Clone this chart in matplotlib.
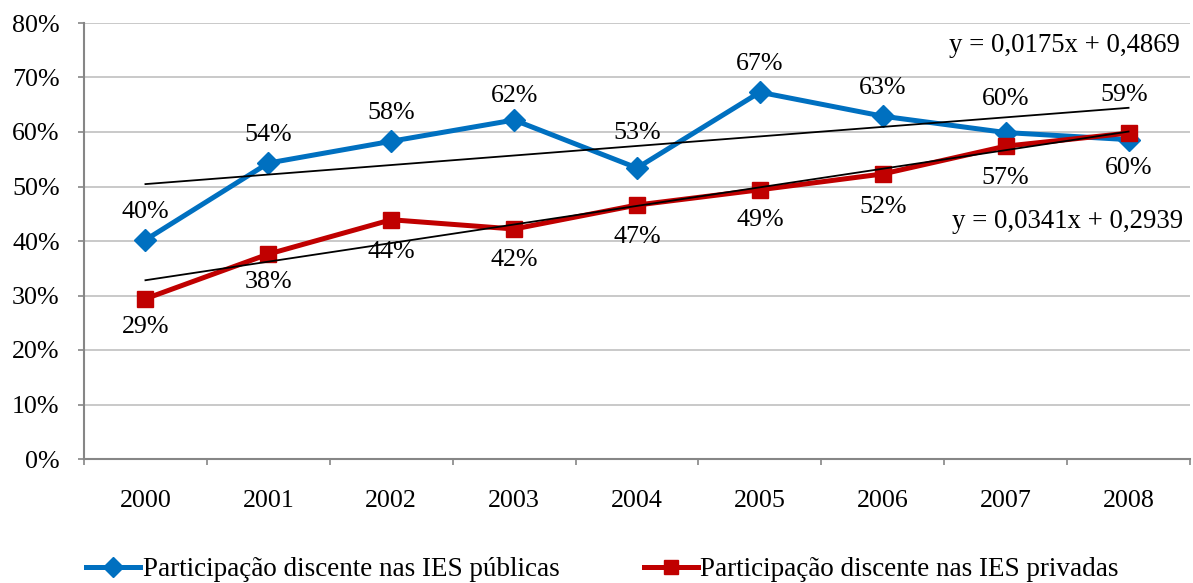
import matplotlib
matplotlib.use("Agg")
import matplotlib.pyplot as plt
from matplotlib.ticker import FixedLocator, FuncFormatter, NullFormatter
import numpy as np

years = ["2000", "2001", "2002", "2003", "2004", "2005", "2006", "2007", "2008"]
publicas = [0.402, 0.543, 0.583, 0.622, 0.534, 0.673, 0.629, 0.599, 0.586]
privadas = [0.294, 0.376, 0.439, 0.422, 0.466, 0.494, 0.523, 0.574, 0.598]
trend_publicas = [0.0175, 0.4869]
trend_privadas = [0.0341, 0.2939]
legend_labels = ["Participação discente nas IES públicas",
                 "Participação discente nas IES privadas"]

plt.rcParams["font.family"] = ["Liberation Serif", "DejaVu Serif"]

BLUE = "#0070c0"
RED = "#c00000"
FS = 18.7

fig = plt.figure(figsize=(11.93, 5.83), dpi=100)
ax = fig.add_axes([84 / 1193, 1 - 459 / 583, (1190 - 84) / 1193, (459 - 23) / 583])

x = np.arange(len(years)) + 0.5
ax.plot(x, publicas, color=BLUE, lw=3.6, marker="D", ms=11.5, mec=BLUE, mfc=BLUE,
        zorder=3, label=legend_labels[0])
ax.plot(x, privadas, color=RED, lw=3.6, marker="s", ms=11.5, mec=RED, mfc=RED,
        zorder=3, label=legend_labels[1])

# linear trend lines over the series index 1..n
idx = np.arange(1, len(years) + 1)
for coef in (trend_publicas, trend_privadas):
    ax.plot(x, coef[0] * idx + coef[1], color="black", lw=1.3, zorder=4)

# label offsets in points (public above, private below)
pub_off = [20, 20, 20, 17, 25, 20, 20, 24, 32]
priv_off = [-20, -20, -23, -22, -23, -22, -24, -23, -25]
for xi, v, d in zip(x, publicas, pub_off):
    ax.annotate(f"{round(v * 100):.0f}%", (xi, v), xytext=(-3 if d > 30 else 0, d),
                textcoords="offset points", ha="center", va="center", fontsize=FS)
for xi, v, d in zip(x, privadas, priv_off):
    ax.annotate(f"{round(v * 100):.0f}%", (xi, v), xytext=(0, d),
                textcoords="offset points", ha="center", va="center", fontsize=FS)

def eq_text(coef):
    return f"y = {coef[0]:.4f}x + {coef[1]:.4f}".replace(".", ",")

ax.text(1180 / 1193, 1 - 45 / 583, eq_text(trend_publicas), transform=fig.transFigure,
        ha="right", va="center", fontsize=19.3)
ax.text(1183 / 1193, 1 - 222 / 583, eq_text(trend_privadas), transform=fig.transFigure,
        ha="right", va="center", fontsize=19.3)

ax.set_xlim(0, len(years))
ax.set_ylim(0, 0.8)
ax.set_yticks(np.arange(0, 0.81, 0.1))
ax.yaxis.set_major_formatter(FuncFormatter(lambda v, p: f"{round(v * 100):.0f}%"))
ax.xaxis.set_major_locator(FixedLocator(np.arange(0, len(years) + 1)))
ax.xaxis.set_major_formatter(NullFormatter())
ax.xaxis.set_minor_locator(FixedLocator(x))
ax.set_xticklabels(years, minor=True)
ax.tick_params(axis="x", which="minor", length=0, pad=22, labelsize=FS)
ax.tick_params(axis="x", which="major", length=4.5, color="#868686", width=1.2)
ax.tick_params(axis="y", length=4.5, color="#868686", width=1.2, labelsize=FS, pad=13)

ax.grid(axis="y", color="#c0c0c0", lw=1.2)
ax.set_axisbelow(True)
for s in ("top", "right"):
    ax.spines[s].set_visible(False)
for s in ("left", "bottom"):
    ax.spines[s].set_color("#868686")
    ax.spines[s].set_linewidth(1.5)

fig.legend(loc="center", bbox_to_anchor=(0.505, 1 - 570 / 583), ncol=2, frameon=False,
           fontsize=19.5, handlelength=2.0, handletextpad=0.1, columnspacing=3.1,
           markerscale=0.9)

fig.savefig("out.png", dpi=100)
